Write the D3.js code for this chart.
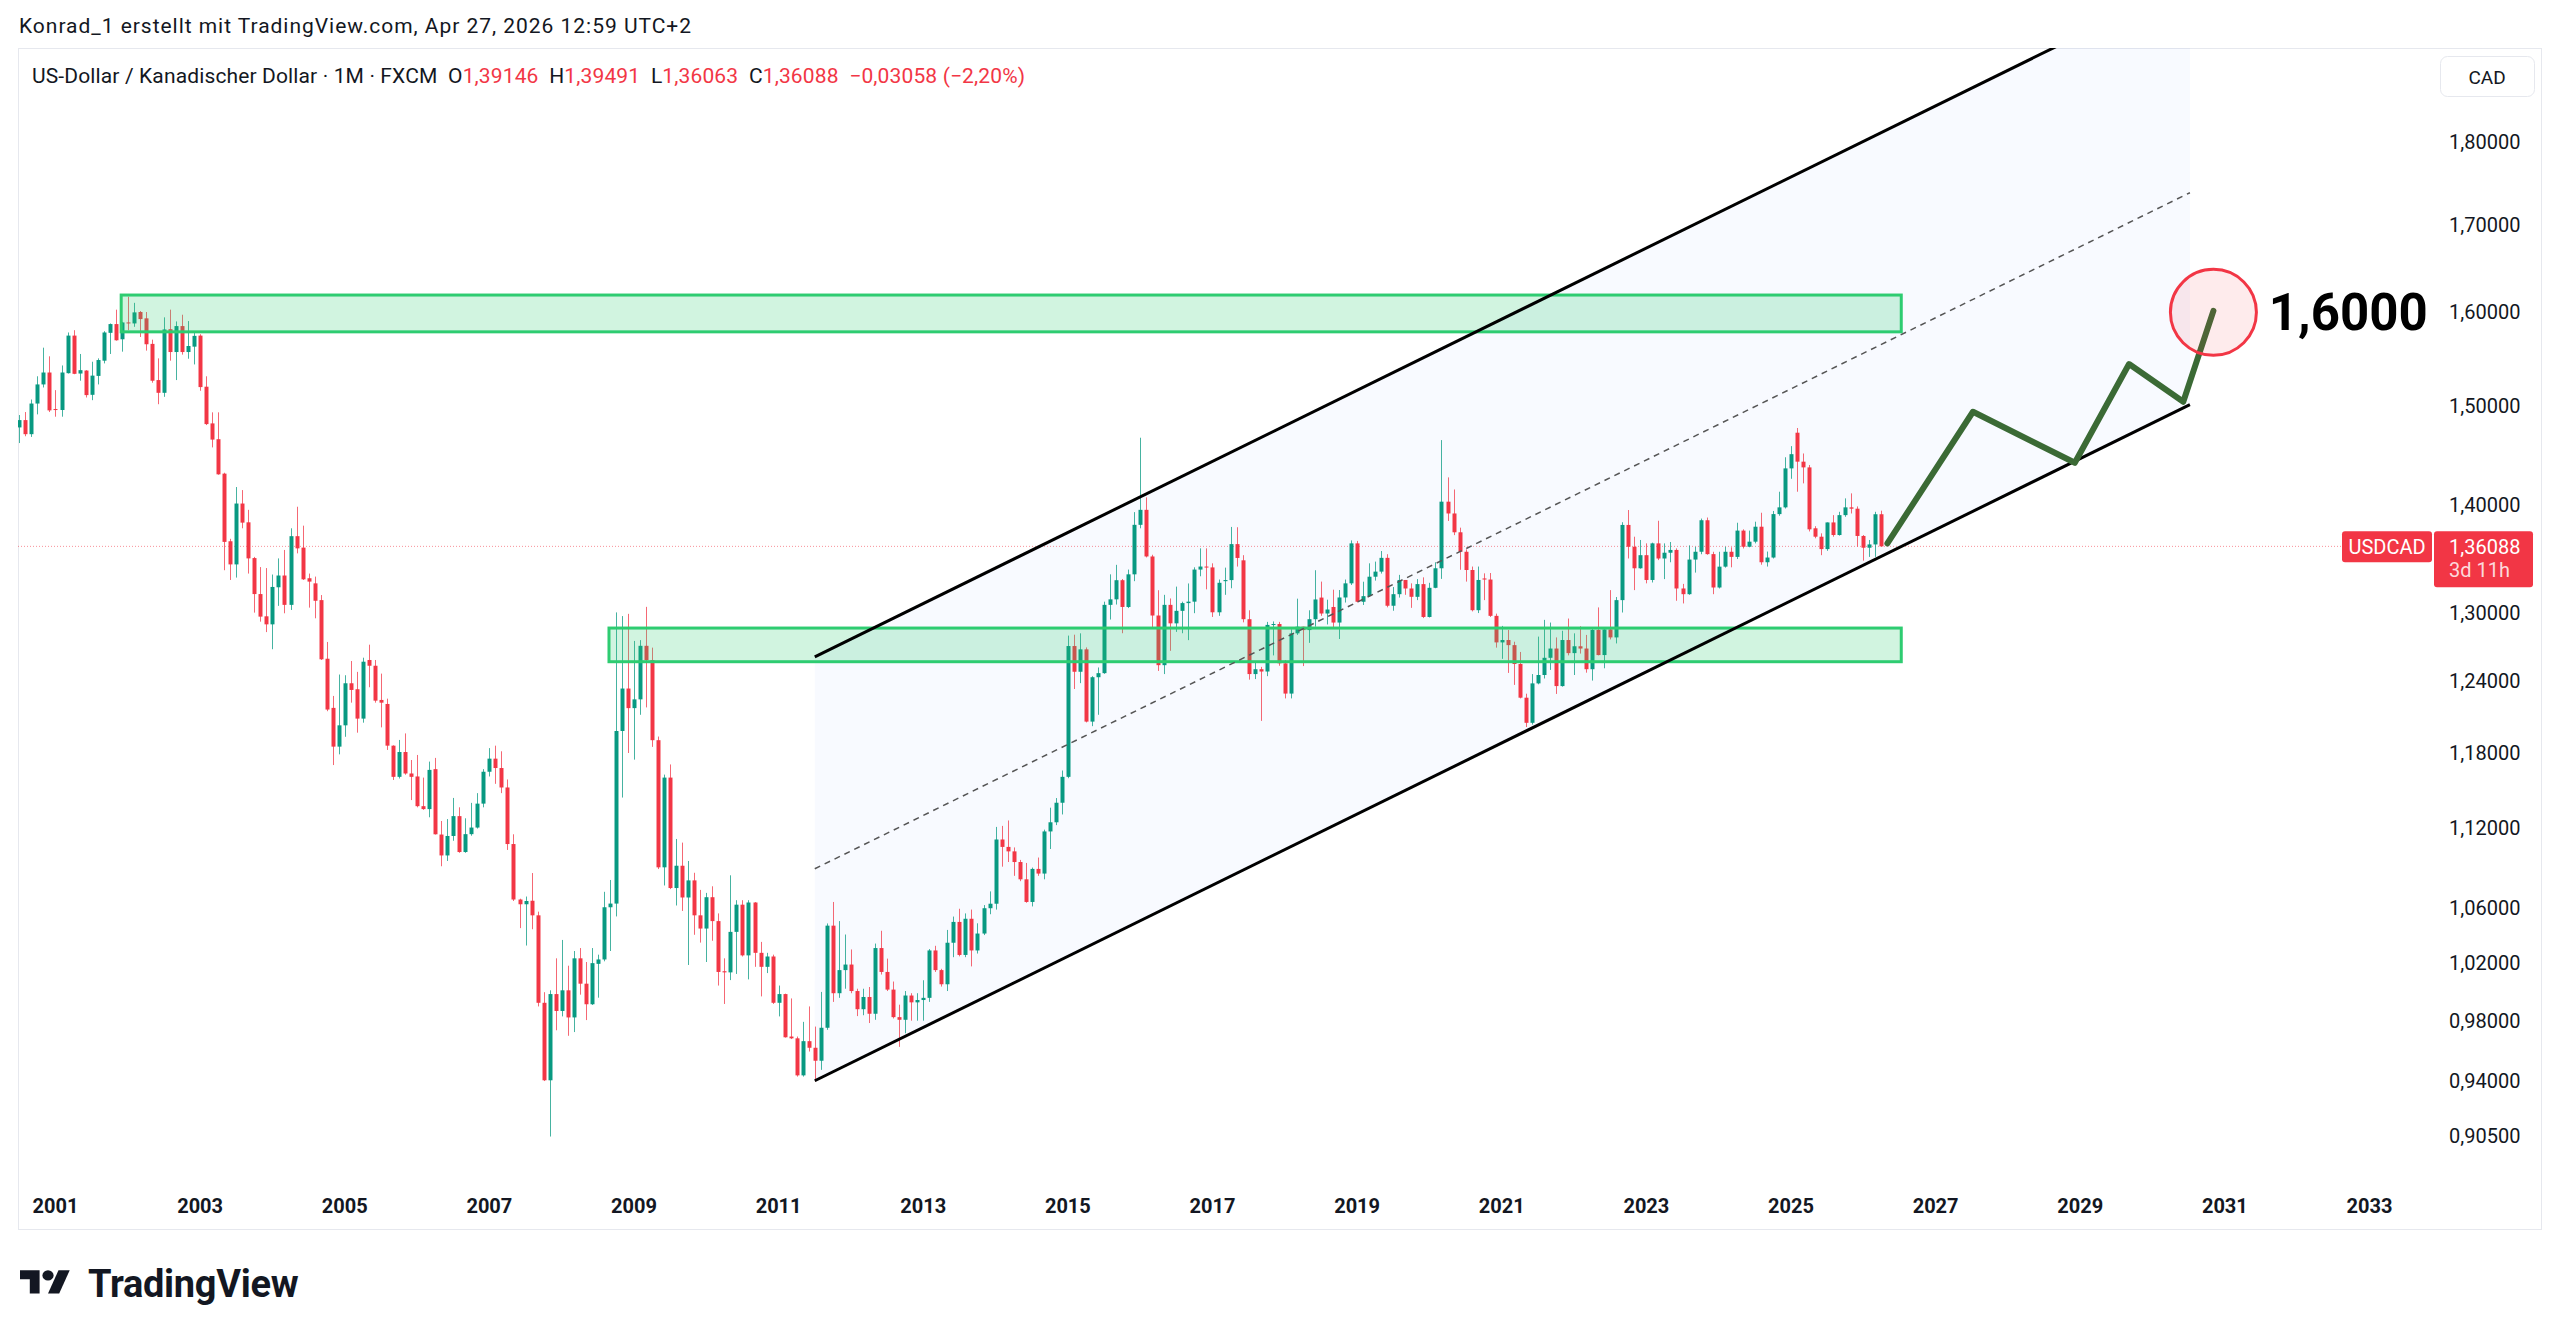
<!DOCTYPE html>
<html>
<head>
<meta charset="utf-8">
<script src="https://cdnjs.cloudflare.com/ajax/libs/d3/7.8.5/d3.min.js"></script>
<style>
html, body { margin: 0; padding: 0; background: #ffffff; }
svg { display: block; font-family: Roboto, "Noto Sans", sans-serif; }
</style>
</head>
<body>
<div id="chart"></div>
<script>
// USD/CAD monthly candles, FXCM, Jul 2000 - Apr 2026
let firstMonth = [2000, 7];

let opens = [
  1.4776,1.4851,1.4707,1.5022,1.5222,1.5348,
  1.4965,1.4955,1.5341,1.5745,1.5337,1.5369,1.5113,1.5312,1.5474,1.5775,1.5871,1.5705,
  1.5889,1.5878,1.6004,1.5934,1.5655,1.5268,1.5134,1.5815,1.5567,1.5849,1.5567,1.5625,
  1.5745,1.5198,1.4817,1.4656,1.4311,1.3657,1.3440,1.4018,1.3837,1.3499,1.3167,1.2966,
  1.2894,1.3229,1.3337,1.3069,1.3705,1.3597,1.3312,1.3265,1.3112,1.2591,1.2170,1.1848,
  1.2024,1.2379,1.2328,1.2080,1.2580,1.2530,1.2237,1.2203,1.1856,1.1603,1.1804,1.1630,
  1.1606,1.1370,1.1347,1.1665,1.1149,1.0989,1.1138,1.1292,1.1015,1.1152,1.1203,1.1390,
  1.1644,1.1750,1.1674,1.1518,1.1076,1.0659,1.0624,1.0650,1.0543,0.9924,0.9406,0.9984,
  0.9868,1.0010,0.9824,1.0234,1.0056,0.9914,1.0195,1.0226,1.0602,1.0629,1.1977,1.2334,
  1.2168,1.2242,1.2704,1.2579,1.1901,1.0899,1.1597,1.0744,1.0911,1.0674,1.0801,1.0543,
  1.0447,1.0676,1.0501,1.0143,1.0135,1.0423,1.0621,1.0255,1.0637,1.0273,1.0174,1.0247,
  0.9924,0.9984,0.9695,0.9683,0.9438,0.9664,0.9620,0.9534,0.9754,1.0468,0.9990,1.0151,
  1.0190,1.0005,0.9880,0.9964,0.9849,1.0307,1.0138,1.0015,0.9826,0.9808,0.9974,0.9927,
  0.9943,0.9958,1.0290,1.0151,1.0052,1.0345,1.0495,1.0258,1.0518,1.0290,1.0411,1.0595,
  1.0628,1.1111,1.1054,1.1020,1.0939,1.0809,1.0641,1.0887,1.0852,1.1173,1.1244,1.1397,
  1.1603,1.2702,1.2478,1.2673,1.2055,1.2431,1.2466,1.3069,1.3119,1.3294,1.3050,1.3348,
  1.3813,1.3957,1.3514,1.2973,1.2535,1.3069,1.2903,1.3015,1.3085,1.3098,1.3392,1.3420,
  1.3412,1.3002,1.3285,1.3295,1.3630,1.3478,1.2940,1.2458,1.2500,1.2480,1.2889,1.2897,
  1.2551,1.2291,1.2814,1.2873,1.2843,1.2940,1.3135,1.2991,1.3050,1.2910,1.3136,1.3265,
  1.3637,1.3097,1.3148,1.3326,1.3373,1.3501,1.3061,1.3166,1.3296,1.3218,1.3142,1.3258,
  1.2960,1.3224,1.3404,1.4036,1.3922,1.3742,1.3558,1.3388,1.3021,1.3310,1.3300,1.2970,
  1.2734,1.2755,1.2710,1.2545,1.2256,1.2045,1.2378,1.2450,1.2599,1.2680,1.2355,1.2755,
  1.2640,1.2700,1.2680,1.2500,1.2844,1.2623,1.2849,1.2778,1.3112,1.3812,1.3605,1.3404,
  1.3526,1.3296,1.3637,1.3495,1.3549,1.3575,1.3218,1.3166,1.3485,1.3558,1.3857,1.3536,
  1.3227,1.3419,1.3558,1.3510,1.3758,1.3605,1.3653,1.3795,1.3460,1.3504,1.3916,1.3981,
  1.4363,1.4722,1.4430,1.4373,1.3780,1.3700,1.3583,1.3836,1.3716,1.3906,1.3981,1.3968,
  1.3707,1.3596,1.3627,1.39146
];

let highs = [
  1.4903,1.4934,1.5064,1.5308,1.5614,1.5521,
  1.5162,1.5423,1.5779,1.5804,1.5546,1.5373,1.5463,1.5499,1.5793,1.5878,1.6030,1.5895,
  1.6174,1.6106,1.6015,1.6004,1.5701,1.5499,1.5945,1.6030,1.5900,1.5974,1.5904,1.5779,
  1.5760,1.5308,1.4931,1.4931,1.4320,1.3680,1.4179,1.4149,1.3957,1.3510,1.3415,1.3406,
  1.3346,1.3496,1.3575,1.3780,1.3987,1.3805,1.3355,1.3327,1.3158,1.2738,1.2271,1.2454,
  1.2448,1.2571,1.2477,1.2600,1.2714,1.2580,1.2462,1.2248,1.1859,1.1903,1.1957,1.1739,
  1.1780,1.1597,1.1726,1.1756,1.1254,1.1269,1.1435,1.1361,1.1275,1.1396,1.1473,1.1665,
  1.1836,1.1856,1.1810,1.1582,1.1151,1.0665,1.0681,1.0856,1.0570,0.9997,1.0010,1.0234,
  1.0365,1.0182,1.0286,1.0307,1.0208,1.0307,1.0260,1.0716,1.0804,1.3001,1.2968,1.2988,
  1.2747,1.2754,1.3051,1.2688,1.1931,1.1621,1.1703,1.1115,1.1087,1.0947,1.0858,1.0730,
  1.0708,1.0757,1.0557,1.0234,1.0839,1.0654,1.0654,1.0654,1.0640,1.0351,1.0273,1.0260,
  1.0043,0.9987,0.9954,0.9695,0.9794,0.9899,0.9762,0.9999,1.0484,1.0641,1.0501,1.0404,
  1.0297,1.0021,1.0021,1.0033,1.0339,1.0431,1.0232,1.0071,0.9911,1.0005,0.9990,0.9990,
  1.0080,1.0300,1.0323,1.0160,1.0437,1.0534,1.0591,1.0557,1.0585,1.0485,1.0618,1.0719,
  1.1208,1.1216,1.1258,1.1050,1.0955,1.0932,1.0897,1.0973,1.1187,1.1358,1.1434,1.1654,
  1.2794,1.2802,1.2814,1.2690,1.2440,1.2515,1.3098,1.3348,1.3436,1.3305,1.3392,1.3935,
  1.4671,1.4078,1.3530,1.3202,1.3160,1.3127,1.3235,1.3098,1.3264,1.3413,1.3590,1.3590,
  1.3450,1.3300,1.3410,1.3793,1.3790,1.3526,1.3020,1.2560,1.2520,1.2916,1.2920,1.2916,
  1.2580,1.2850,1.3125,1.2873,1.3020,1.3386,1.3281,1.3116,1.3207,1.3204,1.3300,1.3665,
  1.3660,1.3280,1.3450,1.3466,1.3565,1.3535,1.3231,1.3343,1.3296,1.3265,1.3304,1.3320,
  1.3270,1.3460,1.4647,1.4274,1.4155,1.3786,1.3580,1.3420,1.3420,1.3357,1.3360,1.2990,
  1.2880,1.2844,1.2740,1.2650,1.2290,1.2458,1.2785,1.2934,1.2910,1.2778,1.2837,1.2946,
  1.2814,1.2877,1.2800,1.2870,1.3046,1.2865,1.3203,1.3140,1.3838,1.3955,1.3700,1.3669,
  1.3637,1.3644,1.3852,1.3637,1.3650,1.3590,1.3260,1.3618,1.3605,1.3873,1.3883,1.3558,
  1.3558,1.3606,1.3600,1.3833,1.3770,1.3758,1.3843,1.3929,1.3560,1.3946,1.4133,1.4474,
  1.4586,1.4770,1.4512,1.4397,1.3800,1.3732,1.3836,1.3906,1.3938,1.4068,1.4117,1.3990,
  1.3716,1.3669,1.3938,1.39491
];

let lows = [
  1.4617,1.4686,1.4679,1.4910,1.5190,1.4934,
  1.4886,1.4886,1.5337,1.5330,1.5261,1.5085,1.5057,1.5222,1.5445,1.5546,1.5690,1.5571,
  1.5804,1.5841,1.5730,1.5582,1.5240,1.5015,1.5092,1.5474,1.5268,1.5539,1.5495,1.5434,
  1.5155,1.4800,1.4573,1.4300,1.3386,1.3296,1.3318,1.3780,1.3355,1.2999,1.2918,1.2825,
  1.2674,1.3060,1.2993,1.3023,1.3543,1.3296,1.3044,1.2948,1.2580,1.2142,1.1698,1.1785,
  1.1929,1.2214,1.1963,1.2046,1.2345,1.2214,1.2007,1.1821,1.1578,1.1590,1.1620,1.1418,
  1.1361,1.1341,1.1283,1.1149,1.0907,1.0947,1.1101,1.1009,1.1009,1.1140,1.1195,1.1361,
  1.1606,1.1547,1.1473,1.1031,1.0648,1.0450,1.0325,1.0442,0.9899,0.9401,0.9047,0.9737,
  0.9831,0.9700,0.9725,0.9980,0.9806,0.9909,0.9959,1.0213,1.0286,1.0535,1.1438,1.1796,
  1.1742,1.2112,1.2174,1.1846,1.0886,1.0763,1.0736,1.0615,1.0575,1.0187,1.0402,1.0346,
  1.0208,1.0359,1.0043,0.9916,1.0081,1.0124,1.0247,1.0086,1.0174,0.9968,1.0130,0.9916,
  0.9831,0.9688,0.9678,0.9430,0.9430,0.9595,0.9397,0.9474,0.9740,0.9930,0.9958,1.0021,
  0.9990,0.9833,0.9839,0.9786,0.9808,1.0120,1.0005,0.9817,0.9626,0.9717,0.9802,0.9802,
  0.9802,0.9930,1.0138,1.0036,1.0005,1.0242,1.0248,1.0242,1.0177,1.0268,1.0400,1.0551,
  1.0585,1.0904,1.0939,1.0835,1.0795,1.0635,1.0608,1.0835,1.0809,1.1038,1.1222,1.1305,
  1.1592,1.2330,1.2380,1.2048,1.2017,1.2112,1.2460,1.2937,1.3072,1.2815,1.3040,1.3285,
  1.3780,1.3505,1.2855,1.2485,1.2458,1.2660,1.2827,1.2815,1.2754,1.2994,1.3330,1.3210,
  1.2960,1.2970,1.3160,1.3220,1.3420,1.2912,1.2410,1.2415,1.2061,1.2440,1.2620,1.2530,
  1.2250,1.2250,1.2800,1.2527,1.2730,1.2873,1.2970,1.2893,1.2870,1.2764,1.3090,1.3250,
  1.3091,1.3068,1.3140,1.3290,1.3355,1.3047,1.3016,1.3135,1.3160,1.3042,1.3112,1.2950,
  1.2955,1.3220,1.3306,1.3850,1.3715,1.3390,1.3281,1.3010,1.2995,1.3112,1.2960,1.2688,
  1.2590,1.2468,1.2365,1.2250,1.2010,1.2030,1.2370,1.2420,1.2494,1.2288,1.2350,1.2620,
  1.2450,1.2636,1.2470,1.2402,1.2620,1.2508,1.2760,1.2725,1.3000,1.3495,1.3203,1.3400,
  1.3265,1.3273,1.3480,1.3304,1.3460,1.3106,1.3082,1.3160,1.3364,1.3535,1.3530,1.3166,
  1.3218,1.3410,1.3413,1.3490,1.3589,1.3600,1.3637,1.3437,1.3420,1.3495,1.3900,1.3970,
  1.4260,1.4133,1.4215,1.3750,1.3685,1.3526,1.3567,1.3700,1.3710,1.3890,1.3922,1.3605,
  1.3475,1.3510,1.3510,1.36063
];

let closes = [
  1.4851,1.4707,1.5022,1.5222,1.5348,1.4951,
  1.4955,1.5348,1.5745,1.5334,1.5373,1.5110,1.5315,1.5481,1.5779,1.5871,1.5694,1.5889,
  1.5878,1.6000,1.5926,1.5651,1.5261,1.5134,1.5812,1.5567,1.5849,1.5567,1.5632,1.5742,
  1.5194,1.4810,1.4652,1.4304,1.3651,1.3440,1.4018,1.3834,1.3496,1.3167,1.2963,1.2894,
  1.3232,1.3337,1.3069,1.3705,1.3590,1.3302,1.3281,1.3106,1.2586,1.2156,1.1848,1.2024,
  1.2379,1.2322,1.2080,1.2565,1.2530,1.2231,1.2214,1.1856,1.1603,1.1804,1.1630,1.1603,
  1.1370,1.1347,1.1659,1.1151,1.0989,1.1138,1.1292,1.1015,1.1152,1.1203,1.1390,1.1644,
  1.1750,1.1674,1.1518,1.1076,1.0659,1.0624,1.0648,1.0543,0.9924,0.9406,0.9984,0.9868,
  1.0010,0.9824,1.0234,1.0056,0.9914,1.0200,1.0226,1.0602,1.0629,1.1977,1.2334,1.2168,
  1.2242,1.2704,1.2579,1.1901,1.0899,1.1597,1.0744,1.0911,1.0674,1.0801,1.0543,1.0447,
  1.0676,1.0501,1.0138,1.0135,1.0423,1.0621,1.0255,1.0637,1.0273,1.0174,1.0247,0.9924,
  0.9984,0.9690,0.9683,0.9438,0.9664,0.9620,0.9534,0.9754,1.0468,0.9990,1.0151,1.0190,
  1.0005,0.9880,0.9964,0.9849,1.0307,1.0138,1.0015,0.9826,0.9808,0.9974,0.9927,0.9943,
  0.9958,1.0290,1.0151,1.0052,1.0345,1.0495,1.0258,1.0518,1.0290,1.0411,1.0595,1.0628,
  1.1111,1.1054,1.1020,1.0939,1.0809,1.0641,1.0887,1.0852,1.1173,1.1244,1.1397,1.1603,
  1.2702,1.2478,1.2673,1.2055,1.2431,1.2466,1.3069,1.3119,1.3294,1.3050,1.3348,1.3813,
  1.3957,1.3514,1.2973,1.2535,1.3069,1.2903,1.3015,1.3085,1.3098,1.3392,1.3420,1.3412,
  1.3002,1.3270,1.3295,1.3630,1.3500,1.2940,1.2458,1.2500,1.2480,1.2889,1.2897,1.2551,
  1.2291,1.2814,1.2873,1.2843,1.2940,1.3118,1.2991,1.3027,1.2910,1.3136,1.3265,1.3637,
  1.3097,1.3148,1.3326,1.3373,1.3501,1.3061,1.3166,1.3296,1.3218,1.3142,1.3258,1.2960,
  1.3224,1.3404,1.4036,1.3922,1.3742,1.3558,1.3388,1.3021,1.3296,1.3300,1.2970,1.2734,
  1.2755,1.2710,1.2545,1.2256,1.2045,1.2378,1.2450,1.2599,1.2680,1.2355,1.2755,1.2640,
  1.2700,1.2680,1.2500,1.2844,1.2623,1.2849,1.2778,1.3112,1.3812,1.3605,1.3404,1.3526,
  1.3296,1.3637,1.3495,1.3549,1.3575,1.3218,1.3166,1.3485,1.3558,1.3857,1.3536,1.3227,
  1.3419,1.3558,1.3510,1.3758,1.3605,1.3653,1.3795,1.3460,1.3504,1.3916,1.3981,1.4363,
  1.4505,1.4430,1.4373,1.3770,1.3700,1.3583,1.3836,1.3716,1.3906,1.3981,1.3968,1.3707,
  1.3596,1.3627,1.39146,1.36088
];

// axis ticks
let priceTicks = [0.905, 0.94, 0.98, 1.02, 1.06, 1.12, 1.18, 1.24, 1.30, 1.40, 1.50, 1.60, 1.70, 1.80];
let yearTicks = [2001, 2003, 2005, 2007, 2009, 2011, 2013, 2015, 2017, 2019, 2021, 2023, 2025, 2027, 2029, 2031, 2033];

// drawings: [month offset from Jan 2001, price]
let zoneTop = [[10.9, 1.5786], [306.3, 1.6193]];
let zoneLow = [[91.85, 1.2565], [306.3, 1.2861]];
let channelLower = [[126.0, 0.9403], [354.2, 1.5011]];
let channelUpper = [[126.0, 1.2607], [354.2, 2.0125]];
let channelMid = [[126.0, 1.0888], [354.2, 1.7381]];
let projection = [[304.0, 1.3637], [318.2, 1.4937], [335.1, 1.4419], [344.1, 1.5438], [353.1, 1.5040], [358.1, 1.6017]];
let target = [358.1, 1.60];
let targetLabel = [367.3, 1.60, "1,6000"];

// visible window of the chart
let visibleMonths = [-6.223, 394.54];
let visiblePrices = [0.8779, 1.9211];

let svgWidth = 2560;
let svgHeight = 1337;
let plot = {left: 18, right: 2433, top: 48, bottom: 1180};
let upColor = "#089981";
let downColor = "#f23645";
let textColor = "#131722";

let svg = d3.select("#chart")
  .append("svg")
    .attr("width", svgWidth)
    .attr("height", svgHeight)
    .style("background-color", "#ffffff");

let defs = svg.append("defs");
defs.append("clipPath").attr("id", "plotClip")
  .append("rect")
    .attr("x", plot.left).attr("y", plot.top)
    .attr("width", plot.right - plot.left).attr("height", plot.bottom - plot.top);

let x = d3.scaleLinear().domain(visibleMonths).range([plot.left, plot.right]);
let y = d3.scaleLog().domain(visiblePrices).range([plot.bottom, plot.top]);

let startOffset = (firstMonth[0] - 2001) * 12 + (firstMonth[1] - 1);
let candles = opens.map(function(o, i){
  return {m: startOffset + i, o: o, h: highs[i], l: lows[i], c: closes[i]};
});

let de = d3.formatLocale({decimal: ",", thousands: ".", grouping: [3], currency: ["", ""], minus: "\u2212"});
let fmt5 = de.format(".5f");
let fmt2 = de.format(".2f");

// pane frame
svg.append("rect")
  .attr("x", 18.5).attr("y", 48.5)
  .attr("width", 2541 - 18).attr("height", 1229 - 48)
  .attr("fill", "none").attr("stroke", "#e6e8ee").attr("stroke-width", 1);

let plotLayer = svg.append("g").attr("clip-path", "url(#plotClip)");

// channel background
let fillPts = [channelUpper[0], channelUpper[1], channelLower[1], channelLower[0]];
plotLayer.append("path")
  .attr("d", "M" + fillPts.map(function(p){ return [x(p[0]), y(p[1])]; }).join("L") + "Z")
  .attr("fill", "rgba(41,98,255,0.03)");

// last price line
let last = candles[candles.length - 1];
let prev = candles[candles.length - 2];
plotLayer.append("line")
  .attr("x1", plot.left).attr("x2", plot.right)
  .attr("y1", y(last.c)).attr("y2", y(last.c))
  .attr("stroke", downColor).attr("stroke-opacity", 0.55)
  .attr("stroke-width", 1).attr("stroke-dasharray", "1,2");

// candles
let barW = (x(1) - x(0)) * 0.66;
let candleGroup = plotLayer.append("g").selectAll(".candle").data(candles)
  .enter().append("g").attr("class", "candle");

candleGroup.append("line")
  .attr("x1", function(d){ return Math.round(x(d.m)) + 0.5; })
  .attr("x2", function(d){ return Math.round(x(d.m)) + 0.5; })
  .attr("y1", function(d){ return y(d.h); })
  .attr("y2", function(d){ return y(d.l); })
  .attr("stroke", function(d){ return d.c >= d.o ? upColor : downColor; })
  .attr("stroke-opacity", 0.75)
  .attr("stroke-width", 1);

candleGroup.append("rect")
  .attr("x", function(d){ return Math.round(x(d.m)) + 0.5 - barW / 2; })
  .attr("y", function(d){ return y(Math.max(d.o, d.c)); })
  .attr("width", barW)
  .attr("height", function(d){ return Math.max(1, y(Math.min(d.o, d.c)) - y(Math.max(d.o, d.c))); })
  .attr("fill", function(d){ return d.c >= d.o ? upColor : downColor; });

// support / resistance zones
[zoneTop, zoneLow].forEach(function(z){
  plotLayer.append("rect")
    .attr("x", x(z[0][0])).attr("y", y(z[1][1]))
    .attr("width", x(z[1][0]) - x(z[0][0]))
    .attr("height", y(z[0][1]) - y(z[1][1]))
    .attr("fill", "rgba(46,204,113,0.22)")
    .attr("stroke", "#2ecc71").attr("stroke-width", 3);
});

// parallel channel
let line = d3.line().x(function(d){ return x(d[0]); }).y(function(d){ return y(d[1]); });
[channelUpper, channelLower].forEach(function(c){
  plotLayer.append("path").attr("d", line(c))
    .attr("fill", "none").attr("stroke", "#000000").attr("stroke-width", 3);
});
plotLayer.append("path").attr("d", line(channelMid))
  .attr("fill", "none").attr("stroke", "#555555").attr("stroke-width", 1.5)
  .attr("stroke-dasharray", "6,5");

// projected path
plotLayer.append("path").attr("d", line(projection))
  .attr("fill", "none").attr("stroke", "#3b6a35").attr("stroke-width", 6)
  .attr("stroke-linejoin", "round").attr("stroke-linecap", "round");

plotLayer.append("circle")
  .attr("cx", x(target[0])).attr("cy", y(target[1])).attr("r", 43)
  .attr("fill", "rgba(242,54,69,0.1)")
  .attr("stroke", downColor).attr("stroke-width", 3);

plotLayer.append("text")
  .attr("x", x(targetLabel[0])).attr("y", y(targetLabel[1]))
  .attr("dominant-baseline", "central")
  .attr("font-size", 51).attr("font-weight", 700).attr("fill", "#000000")
  .text(targetLabel[2]);

// price axis
svg.append("rect")
  .attr("x", 2440.5).attr("y", 56.5).attr("width", 94).attr("height", 40).attr("rx", 7)
  .attr("fill", "#ffffff").attr("stroke", "#e6e8ee");
svg.append("text")
  .attr("x", 2487).attr("y", 77).attr("text-anchor", "middle").attr("dominant-baseline", "central")
  .attr("font-size", 19).attr("fill", textColor).text("CAD");

svg.append("g").selectAll("text").data(priceTicks).enter().append("text")
  .attr("x", 2449).attr("y", function(d){ return y(d); })
  .attr("dominant-baseline", "central")
  .attr("font-size", 20).attr("fill", textColor)
  .text(function(d){ return fmt5(d); });

let ly = y(last.c);
svg.append("rect")
  .attr("x", 2342).attr("y", ly - 15).attr("width", 90).attr("height", 31).attr("rx", 3)
  .attr("fill", downColor);
svg.append("text")
  .attr("x", 2387).attr("y", ly + 0.5).attr("text-anchor", "middle").attr("dominant-baseline", "central")
  .attr("font-size", 20).attr("fill", "#ffffff").text("USDCAD");
svg.append("rect")
  .attr("x", 2434).attr("y", ly - 15).attr("width", 99).attr("height", 56).attr("rx", 3)
  .attr("fill", downColor);
svg.append("text")
  .attr("x", 2449).attr("y", ly + 1).attr("dominant-baseline", "central")
  .attr("font-size", 20).attr("fill", "#ffffff").text(fmt5(last.c));
svg.append("text")
  .attr("x", 2449).attr("y", ly + 24).attr("dominant-baseline", "central")
  .attr("font-size", 20).attr("fill", "rgba(255,255,255,0.82)").text("3d 11h");

// time axis
svg.append("g").selectAll("text").data(yearTicks).enter().append("text")
  .attr("x", function(d){ return x((d - 2001) * 12); })
  .attr("y", 1206).attr("text-anchor", "middle").attr("dominant-baseline", "central")
  .attr("font-size", 20).attr("font-weight", 700).attr("fill", textColor)
  .text(function(d){ return d; });

// header
svg.append("text")
  .attr("x", 19).attr("y", 33)
  .attr("font-size", 21).attr("fill", textColor)
  .attr("textLength", 672).attr("lengthAdjust", "spacing")
  .text("Konrad_1 erstellt mit TradingView.com, Apr 27, 2026 12:59 UTC+2");

let change = last.c - prev.c;
let legendParts = [
  ["US-Dollar / Kanadischer Dollar \u00b7 1M \u00b7 FXCM  O", textColor],
  [fmt5(last.o), downColor],
  ["  H", textColor], [fmt5(last.h), downColor],
  ["  L", textColor], [fmt5(last.l), downColor],
  ["  C", textColor], [fmt5(last.c), downColor],
  ["  " + fmt5(change) + " (" + fmt2(change / prev.c * 100) + "%)", downColor]
];
let legend = svg.append("text")
  .attr("x", 32).attr("y", 83)
  .attr("font-size", 21)
  .attr("textLength", 993).attr("lengthAdjust", "spacing")
  .attr("xml:space", "preserve")
  .style("white-space", "pre");
legend.selectAll("tspan").data(legendParts).enter().append("tspan")
  .attr("fill", function(d){ return d[1]; })
  .text(function(d){ return d[0]; });

// TradingView logo
let logo = svg.append("g").attr("transform", "translate(20,1265) scale(1.4,1.3)");
logo.append("path").attr("d", "M14 22H7V11H0V4h14v18z").attr("fill", textColor);
logo.append("circle").attr("cx", 20).attr("cy", 8).attr("r", 4).attr("fill", textColor);
logo.append("path").attr("d", "M28 22h-8l7.5-18h8L28 22z").attr("fill", textColor);
svg.append("text")
  .attr("x", 88).attr("y", 1297)
  .attr("font-size", 38).attr("font-weight", 700).attr("fill", textColor)
  .attr("letter-spacing", -0.3)
  .text("TradingView");
</script>
</body>
</html>
